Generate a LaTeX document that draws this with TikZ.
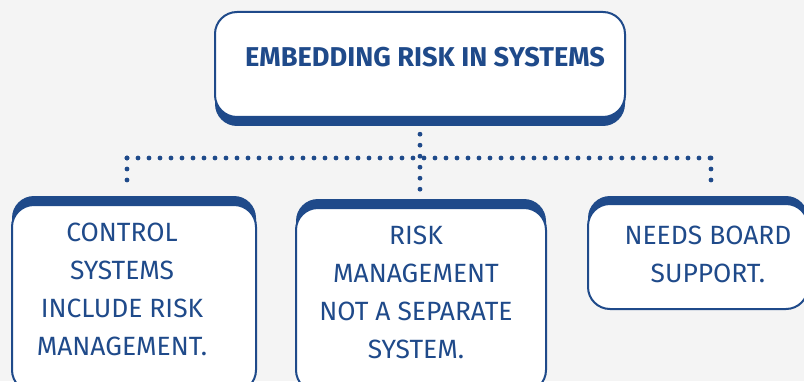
\documentclass[tikz,border=0pt]{standalone}
\usepackage{fontspec}
\setmainfont{Fira Sans}
\definecolor{navy}{HTML}{1F4A8A}
\definecolor{bg}{HTML}{F4F4F4}
\begin{document}
\begin{tikzpicture}[x=1pt,y=1pt,
  card/.style={draw=navy,line width=2pt,fill=white,rounded corners=22pt,inner sep=0pt},
  cardshadow/.style={fill=navy,rounded corners=22pt,inner sep=0pt},
  lbl/.style={text=navy,align=center,font=\fontsize{26.4}{38}\selectfont},
  ttl/.style={text=navy,align=center,font=\fontsize{27.2}{38}\selectfont\bfseries},
  dotline/.style={draw=navy,line width=4.8pt,line cap=round,dash pattern=on 0pt off 11pt}]
\path[fill=bg] (0,0) rectangle (804,381);
\useasboundingbox (0,0) rectangle (804,381);
% top box
\node[cardshadow,minimum width=410pt,minimum height=105pt] (tops) at (420,307.5) {};
\node[card,minimum width=410pt,minimum height=105pt] (top) at (420,316.5) {};
\node[ttl] (toptext) at (425,324) {EMBEDDING RISK IN SYSTEMS};
% box 1
\node[cardshadow,minimum width=244pt,minimum height=187pt] (b1s) at (134,91.5) {};
\node[card,minimum width=244pt,minimum height=187pt] (b1) at (134,82.5) {};
\node[lbl] (t1) at (122,92) {CONTROL\\SYSTEMS\\INCLUDE RISK\\MANAGEMENT.};
% box 2
\node[cardshadow,minimum width=250pt,minimum height=184pt] (b2s) at (421,90) {};
\node[card,minimum width=250pt,minimum height=184pt] (b2) at (421,81) {};
\node[lbl] (t2) at (416,88.5) {RISK\\MANAGEMENT\\NOT A SEPARATE\\SYSTEM.};
% box 3
\node[cardshadow,minimum width=220pt,minimum height=105pt] (b3s) at (698,132.5) {};
\node[card,minimum width=220pt,minimum height=105pt] (b3) at (698,124.5) {};
\node[lbl] (t3) at (708,127) {NEEDS BOARD\\SUPPORT.};
% connectors
\coordinate (j) at (420,223);
\coordinate (jl) at (127,223);
\coordinate (jr) at (711,223);
\draw[dotline] ([yshift=-8pt]tops.south -| j) -- (j |- b2s.north);
\draw[dotline] (jl) -- (jr);
\draw[dotline] (jl) -- ([yshift=8pt]jl |- b1s.north);
\draw[dotline] (jr) -- ([yshift=6pt]jr |- b3s.north);
\end{tikzpicture}
\end{document}
